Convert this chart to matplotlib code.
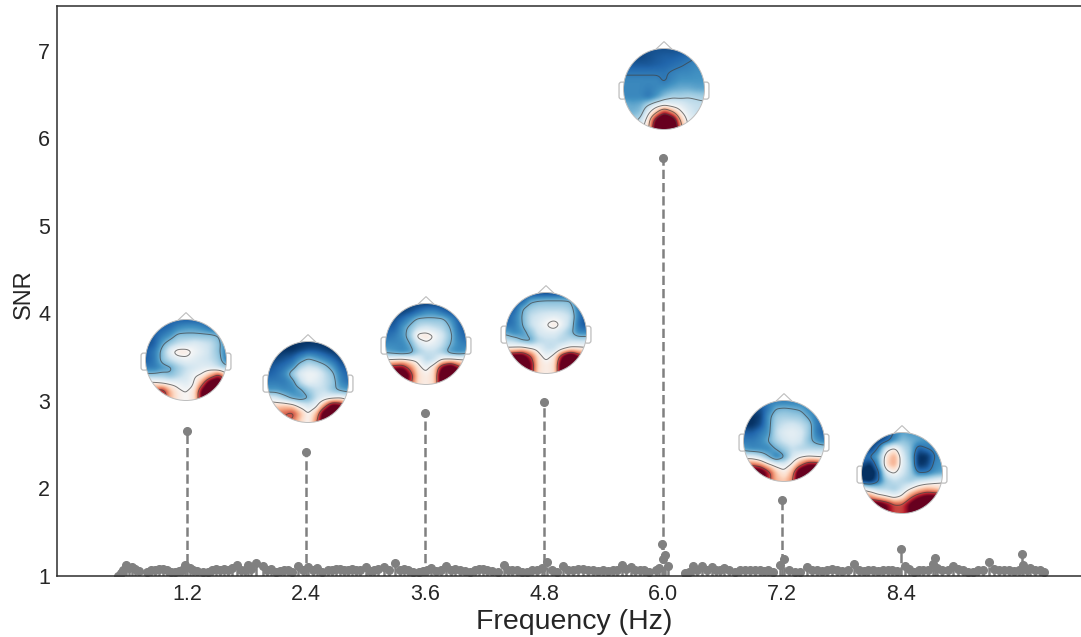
import matplotlib
matplotlib.use("Agg")
import matplotlib.pyplot as plt
import numpy as np
from matplotlib.colors import TwoSlopeNorm
from matplotlib.patches import Circle, FancyBboxPatch, Polygon

plt.rcParams["font.family"] = ["Liberation Sans", "DejaVu Sans"]

# SNR peaks at the stimulation frequency and its harmonics
peak_freqs = [1.2, 2.4, 3.6, 4.8, 6.0, 7.2, 8.4]
peak_snr = [2.66, 2.42, 2.86, 2.99, 5.77, 1.87, 1.31]

# the rest of the spectrum
noise_freqs = [
    0.50, 0.53, 0.56, 0.585, 0.62, 0.65, 0.676, 0.72, 0.80, 0.84, 0.88, 0.92,
    0.96, 1.00, 1.04, 1.08, 1.12, 1.15, 1.18, 1.23, 1.26, 1.30, 1.36, 1.41,
    1.45, 1.49, 1.53, 1.57, 1.61, 1.65, 1.70, 1.74, 1.78, 1.815, 1.85, 1.90,
    1.97, 2.01, 2.05, 2.10, 2.14, 2.18, 2.22, 2.26, 2.32, 2.37, 2.42, 2.47,
    2.51, 2.56, 2.62, 2.66, 2.70, 2.74, 2.78, 2.82, 2.86, 2.90, 2.94, 3.00,
    3.04, 3.08, 3.13, 3.19, 3.24, 3.30, 3.35, 3.39, 3.43, 3.48, 3.54, 3.58,
    3.62, 3.66, 3.71, 3.76, 3.81, 3.86, 3.90, 3.95, 4.00, 4.05, 4.10, 4.14,
    4.18, 4.22, 4.27, 4.33, 4.39, 4.44, 4.48, 4.53, 4.58, 4.63, 4.68, 4.73,
    4.78, 4.83, 4.88, 4.93, 4.99, 5.04, 5.09, 5.14, 5.19, 5.24, 5.29, 5.34,
    5.39, 5.44, 5.49, 5.53, 5.58, 5.62, 5.67, 5.72, 5.77, 5.81, 5.86, 5.93,
    5.96, 5.99, 6.00, 6.02, 6.05, 6.22, 6.26, 6.30, 6.34, 6.39, 6.44, 6.49,
    6.53, 6.57, 6.61, 6.66, 6.72, 6.77, 6.82, 6.87, 6.92, 6.97, 7.02, 7.06,
    7.11, 7.18, 7.22, 7.27, 7.33, 7.38, 7.45, 7.50, 7.55, 7.60, 7.65, 7.70,
    7.75, 7.80, 7.86, 7.92, 7.97, 8.02, 8.06, 8.11, 8.16, 8.21, 8.26, 8.31,
    8.36, 8.44, 8.48, 8.53, 8.58, 8.62, 8.67, 8.72, 8.74, 8.76, 8.81, 8.87,
    8.92, 8.97, 9.02, 9.07, 9.12, 9.17, 9.22, 9.28, 9.33, 9.38, 9.43, 9.48,
    9.53, 9.58, 9.62, 9.63, 9.67, 9.70, 9.75, 9.80, 9.84,
]
noise_snr = [
    1.00, 1.03, 1.07, 1.13, 1.09, 1.10, 1.08, 1.06, 1.05, 1.07, 1.07, 1.08,
    1.08, 1.07, 1.05, 1.05, 1.06, 1.07, 1.13, 1.09, 1.07, 1.06, 1.05, 1.05,
    1.07, 1.08, 1.07, 1.08, 1.07, 1.09, 1.13, 1.07, 1.07, 1.13, 1.08, 1.15,
    1.11, 1.07, 1.08, 1.05, 1.06, 1.07, 1.07, 1.05, 1.11, 1.07, 1.10, 1.07,
    1.09, 1.05, 1.07, 1.07, 1.08, 1.08, 1.07, 1.07, 1.08, 1.07, 1.07, 1.10,
    1.06, 1.07, 1.08, 1.10, 1.07, 1.15, 1.07, 1.08, 1.07, 1.05, 1.05, 1.06,
    1.07, 1.09, 1.06, 1.07, 1.11, 1.07, 1.08, 1.07, 1.06, 1.05, 1.07, 1.08,
    1.08, 1.07, 1.06, 1.05, 1.12, 1.07, 1.07, 1.07, 1.05, 1.05, 1.07, 1.07,
    1.09, 1.16, 1.07, 1.05, 1.11, 1.07, 1.07, 1.08, 1.08, 1.07, 1.07, 1.06,
    1.07, 1.06, 1.07, 1.07, 1.12, 1.08, 1.10, 1.07, 1.07, 1.07, 1.05, 1.07,
    1.09, 1.37, 1.19, 1.24, 1.11, 1.03, 1.05, 1.11, 1.07, 1.11, 1.07, 1.10,
    1.07, 1.07, 1.09, 1.07, 1.05, 1.07, 1.07, 1.07, 1.07, 1.07, 1.06, 1.07,
    1.05, 1.13, 1.19, 1.07, 1.05, 1.05, 1.10, 1.07, 1.07, 1.06, 1.07, 1.08,
    1.07, 1.06, 1.07, 1.14, 1.07, 1.06, 1.07, 1.07, 1.06, 1.07, 1.07, 1.07,
    1.06, 1.11, 1.08, 1.05, 1.07, 1.07, 1.07, 1.14, 1.21, 1.09, 1.07, 1.07,
    1.11, 1.08, 1.07, 1.05, 1.05, 1.07, 1.07, 1.16, 1.08, 1.07, 1.07, 1.07,
    1.06, 1.07, 1.25, 1.13, 1.07, 1.09, 1.07, 1.07, 1.04,
]

# topographies on a 11x11 grid: rows run from nose to back, columns left to right
topo_12 = [
    [-.70, -.70, -.70, -.70, -.70, -.70, -.70, -.70, -.70, -.70, -.70],
    [-.70, -.70, -.70, -.65, -.55, -.50, -.50, -.55, -.65, -.70, -.70],
    [-.75, -.70, -.60, -.50, -.35, -.35, -.35, -.35, -.35, -.40, -.60],
    [-.75, -.70, -.45, -.30, -.20, -.15, -.10, -.15, -.20, -.35, -.55],
    [-.70, -.60, -.35, -.05, .10, .08, -.03, -.10, -.20, -.35, -.60],
    [-.70, -.60, -.35, -.20, -.10, -.05, -.10, -.15, -.20, -.30, -.60],
    [-.60, -.60, -.50, -.45, -.30, -.20, -.15, -.10, -.10, -.20, -.30],
    [-.30, -.30, -.30, -.35, -.25, -.15, -.02, .05, .30, .60, .15],
    [.10, .10, .05, .00, -.05, -.10, .00, .40, 1.0, 1.1, .50],
    [.40, .50, .70, .25, .05, .00, .10, .85, 1.3, 1.3, .70],
    [.40, .50, .60, .25, .05, .00, .10, .80, 1.2, 1.1, .70],
]
topo_24 = [
    [-.85, -.85, -.85, -.85, -.85, -.85, -.85, -.85, -.85, -.85, -.85],
    [-.85, -.85, -.85, -.85, -.80, -.75, -.75, -.80, -.85, -.85, -.85],
    [-.80, -.80, -.75, -.70, -.55, -.42, -.50, -.60, -.70, -.80, -.80],
    [-.75, -.70, -.65, -.55, -.30, -.20, -.25, -.35, -.50, -.70, -.75],
    [-.70, -.65, -.55, -.30, -.10, -.03, -.05, -.20, -.35, -.60, -.70],
    [-.60, -.60, -.60, -.50, -.20, -.05, -.10, -.20, -.30, -.55, -.65],
    [-.50, -.50, -.55, -.55, -.45, -.30, -.20, -.20, -.35, -.45, -.50],
    [-.10, -.15, -.30, -.45, -.50, -.42, -.20, -.10, -.05, .00, -.10],
    [.15, .15, .20, .15, -.05, -.15, -.05, .35, .85, .75, .30],
    [.35, .40, .45, .55, .25, .00, .25, .95, 1.3, 1.1, .60],
    [.35, .40, .40, .40, .15, .00, .40, 1.0, 1.2, 1.0, .60],
]
topo_36 = [
    [-.80, -.80, -.80, -.80, -.80, -.80, -.80, -.80, -.80, -.80, -.80],
    [-.80, -.80, -.80, -.75, -.65, -.55, -.55, -.65, -.75, -.80, -.80],
    [-.75, -.75, -.65, -.50, -.35, -.35, -.35, -.35, -.50, -.70, -.75],
    [-.70, -.70, -.50, -.35, -.20, -.15, -.20, -.25, -.40, -.65, -.75],
    [-.65, -.60, -.50, -.30, .08, .10, .00, -.15, -.35, -.60, -.70],
    [-.55, -.55, -.55, -.42, -.15, -.03, -.08, -.20, -.40, -.55, -.60],
    [-.45, -.50, -.55, -.50, -.30, -.20, -.20, -.30, -.50, -.55, -.50],
    [.02, .05, .08, .02, -.05, -.25, -.20, .03, .08, .05, .02],
    [.55, .65, .70, .40, .08, -.05, .15, .75, 1.0, .60, .30],
    [1.0, 1.1, 1.1, .65, .12, .05, .15, 1.1, 1.3, 1.1, .60],
    [.90, 1.0, 1.0, .50, .10, .05, .15, 1.0, 1.2, 1.0, .60],
]
topo_48 = [
    [-.80, -.80, -.80, -.80, -.80, -.80, -.80, -.80, -.80, -.80, -.80],
    [-.75, -.75, -.70, -.45, -.40, -.38, -.38, -.38, -.40, -.70, -.75],
    [-.70, -.70, -.42, -.30, -.25, -.25, -.25, -.25, -.30, -.60, -.75],
    [-.70, -.60, -.40, -.20, -.15, -.10, -.08, -.12, -.20, -.60, -.75],
    [-.65, -.60, -.42, -.20, -.10, .00, .10, -.05, -.25, -.65, -.75],
    [-.45, -.55, -.50, -.35, -.15, -.10, -.10, -.20, -.35, -.55, -.55],
    [-.20, -.25, -.40, -.45, -.25, -.20, -.20, -.25, -.20, -.20, -.20],
    [.05, .08, .15, .05, -.05, -.20, -.20, -.03, .08, .08, .05],
    [.70, .90, .90, .55, .10, -.05, .08, .70, 1.1, .70, .40],
    [1.0, 1.2, 1.2, .75, .12, .05, .12, 1.0, 1.3, 1.1, .50],
    [1.0, 1.1, 1.1, .70, .10, .05, .10, 1.0, 1.2, 1.0, .50],
]
topo_60 = [
    [-.75, -.75, -.75, -.75, -.75, -.75, -.75, -.75, -.75, -.75, -.75],
    [-.78, -.78, -.78, -.75, -.72, -.70, -.70, -.68, -.65, -.60, -.60],
    [-.72, -.72, -.72, -.72, -.70, -.68, -.65, -.62, -.58, -.55, -.55],
    [-.62, -.62, -.62, -.62, -.62, -.62, -.58, -.55, -.55, -.52, -.52],
    [-.55, -.55, -.55, -.55, -.55, -.62, -.55, -.50, -.50, -.50, -.50],
    [-.55, -.55, -.55, -.58, -.55, -.50, -.45, -.42, -.42, -.45, -.45],
    [-.55, -.55, -.55, -.62, -.50, -.35, -.27, -.28, -.25, -.27, -.30],
    [-.40, -.45, -.42, -.25, -.10, -.02, -.08, -.10, -.18, -.20, -.20],
    [-.40, -.40, -.35, -.05, .25, .60, .35, .05, -.10, -.20, -.20],
    [-.35, -.30, -.20, .10, .80, 1.3, 1.0, .25, -.05, -.10, -.10],
    [-.30, -.20, -.10, .15, .95, 1.4, 1.2, .35, .00, -.10, -.10],
]
topo_72 = [
    [-.60, -.60, -.60, -.60, -.60, -.60, -.60, -.60, -.60, -.60, -.60],
    [-.70, -.75, -.75, -.60, -.42, -.40, -.42, -.45, -.55, -.60, -.60],
    [-.80, -.85, -.80, -.50, -.30, -.28, -.30, -.32, -.45, -.60, -.60],
    [-.85, -.85, -.75, -.50, -.25, -.18, -.15, -.20, -.30, -.60, -.65],
    [-.70, -.70, -.60, -.50, -.20, -.10, -.07, -.12, -.30, -.60, -.70],
    [-.60, -.60, -.55, -.42, -.25, -.15, -.10, -.15, -.35, -.50, -.60],
    [-.50, -.55, -.55, -.55, -.42, -.30, -.20, -.25, -.25, -.25, -.25],
    [-.10, -.10, -.20, -.40, -.60, -.45, -.15, -.02, .03, .00, .00],
    [.40, .45, .35, .10, -.05, -.10, .05, .40, .70, .70, .40],
    [.80, 1.0, 1.0, .60, .20, .05, .30, 1.1, 1.3, 1.2, .80],
    [.80, 1.0, .90, .55, .25, .20, .40, 1.1, 1.2, 1.1, .80],
]
topo_84 = [
    [-.75, -.80, -.80, -.75, -.60, -.45, -.50, -.50, -.50, -.50, -.50],
    [-.80, -.85, -.80, -.70, -.50, -.35, -.40, -.45, -.50, -.55, -.55],
    [-.80, -.80, -.60, -.10, .05, -.20, -.35, -.70, -.60, -.55, -.55],
    [-.60, -.60, -.40, .10, .30, -.10, -.35, -.85, -.85, -.60, -.50],
    [-.75, -.85, -.50, .15, .30, -.10, -.30, -.85, -.80, -.55, -.50],
    [-.90, -1.0, -.70, -.10, .02, -.15, -.30, -.60, -.60, -.50, -.45],
    [-.85, -.90, -.65, -.30, -.20, -.25, -.30, -.20, -.15, -.08, -.02],
    [.00, -.15, -.25, -.25, -.30, -.18, .00, .15, .25, .20, .10],
    [.40, .35, .15, .05, -.05, .05, .40, .65, .80, .80, .65],
    [.70, .90, .95, .75, .50, .50, .80, 1.1, 1.35, 1.3, 1.0],
    [.70, .90, .95, .75, .50, .50, .80, 1.1, 1.3, 1.2, 1.0],
]
topos = [topo_12, topo_24, topo_36, topo_48, topo_60, topo_72, topo_84]
topo_levels = [
    [-.40, .00, .45],
    [-.40, .00, .45],
    [-.40, .00, .45],
    [-.40, .00, .45],
    [-.60, -.25, .00, .25, .60],
    [-.42, .00, .45],
    [-.60, .00, .45],
]

GREY = "#808080"
INK = "#262626"
W, H = 1081, 637
# head centres in pixels of the figure, and the radius
head_px = [(186, 360), (308, 382), (426, 344), (546, 333), (664, 89), (784, 441), (902, 473)]
HEAD_R = 40.5


def upsample(grid, n=121, blur=7):
    grid = np.asarray(grid, dtype=float)
    src = np.arange(grid.shape[0])
    dst = np.linspace(0, grid.shape[0] - 1, n)
    fine = np.array([np.interp(dst, src, row) for row in grid])
    fine = np.array([np.interp(dst, src, col) for col in fine.T]).T
    kernel = np.ones(blur) / blur
    for _ in range(2):
        pad = np.pad(fine, blur, mode="edge")
        pad = np.apply_along_axis(np.convolve, 0, pad, kernel, mode="same")
        pad = np.apply_along_axis(np.convolve, 1, pad, kernel, mode="same")
        fine = pad[blur:-blur, blur:-blur]
    return fine


def draw_head(fig, centre, grid, levels):
    span = HEAD_R * 1.3
    cx, cy = centre
    ax = fig.add_axes([(cx - span) / W, 1 - (cy + span) / H, 2 * span / W, 2 * span / H])
    ax.set_xlim(-1.3, 1.3)
    ax.set_ylim(-1.3, 1.3)
    ax.axis("off")

    values = upsample(grid)
    xs = np.linspace(-1, 1, values.shape[1])
    ys = np.linspace(1, -1, values.shape[0])
    clip = Circle((0, 0), 1.0, transform=ax.transData)
    norm = TwoSlopeNorm(vcenter=0, vmin=-.85, vmax=.75)
    img = ax.imshow(values, extent=(-1, 1, -1, 1), cmap="RdBu_r", norm=norm,
                    interpolation="bilinear", zorder=1)
    img.set_clip_path(clip)
    lines = ax.contour(xs, ys, values, levels=levels, colors="#404040",
                       linewidths=0.7, linestyles="solid", alpha=0.7, zorder=2)
    lines.set_clip_path(clip)

    edge = "#bdbdbd"
    ax.add_patch(Circle((0, 0), 1.0, fill=False, ec=edge, lw=0.7, zorder=3))
    ax.add_patch(Polygon([(-.2, .98), (0, 1.17), (.2, .98)], closed=False, fill=False,
                         ec=edge, lw=0.8, zorder=3))
    for side in (-1, 1):
        ear = FancyBboxPatch((side * 1.03 - .07, -.24), .14, .40,
                             boxstyle="round,pad=0.01,rounding_size=0.06",
                             fill=False, ec=edge, lw=0.9, zorder=0)
        ax.add_patch(ear)


fig = plt.figure(figsize=(W / 100, H / 100), dpi=100)
ax = fig.add_axes([57 / W, 1 - 576 / H, (W - 57 + 3) / W, 570 / H])

freqs = np.array(noise_freqs + peak_freqs)
snr = np.array(noise_snr + peak_snr)
markers, stems, base = ax.stem(freqs, snr, bottom=1, linefmt="--", markerfmt="o", basefmt=" ")
plt.setp(stems, color=GREY, linewidth=1.8)
plt.setp(markers, color=GREY, markersize=5.5)

ax.set_xlim(-0.11, 10.24)
ax.set_ylim(1, 7.51)
ax.set_xticks(peak_freqs)
ax.set_xticklabels([f"{f:.1f}" for f in peak_freqs])
ax.set_yticks(range(1, 8))
ax.tick_params(axis="both", length=0, labelcolor=INK, labelsize=15.5)
ax.tick_params(axis="x", pad=6)
ax.tick_params(axis="y", pad=5)
ax.set_xlabel("Frequency (Hz)", fontsize=20.5, color=INK)
ax.xaxis.set_label_coords(0.5035, -0.058)
ax.set_ylabel("SNR", fontsize=17, color=INK)
ax.yaxis.set_label_coords(-0.022, 0.495)
for spine in ax.spines.values():
    spine.set_color("#2e2e2e")
    spine.set_linewidth(1.1)

for centre, grid, levels in zip(head_px, topos, topo_levels):
    draw_head(fig, centre, grid, levels)

fig.savefig("out.png", dpi=100)
